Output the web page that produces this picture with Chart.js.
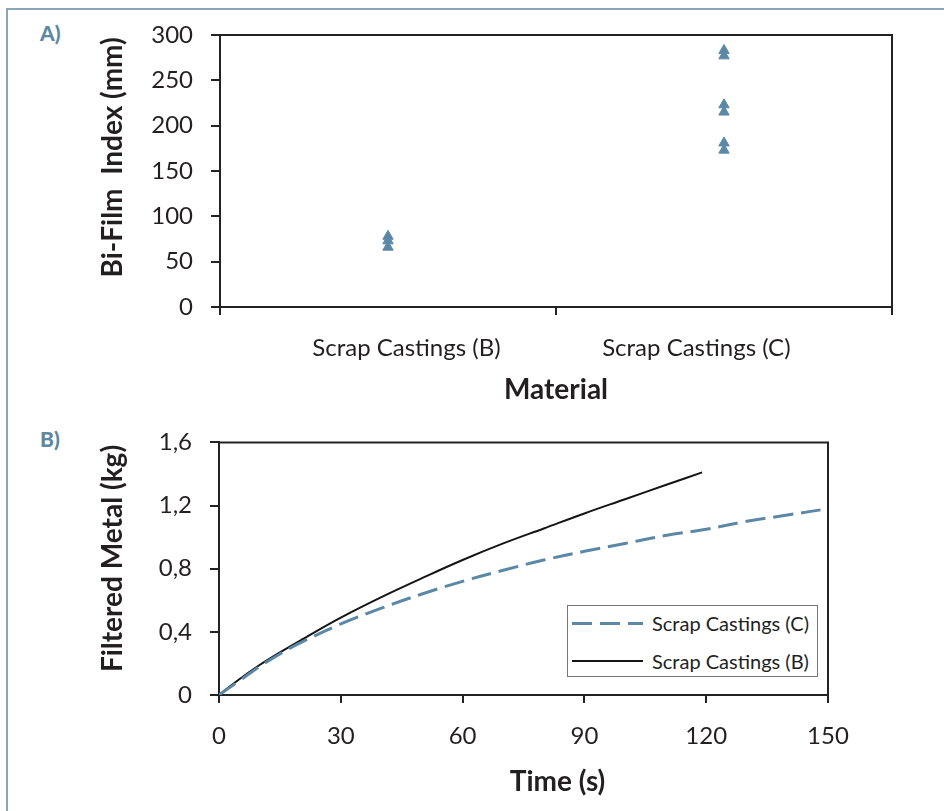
<!DOCTYPE html>
<html>
<head>
<meta charset="utf-8">
<script src="https://cdn.jsdelivr.net/npm/chart.js@4.4.0/dist/chart.umd.min.js"></script>
<style>
  body { margin: 0; background: #fff; width: 944px; height: 811px; overflow: hidden; position: relative; font-family: Lato, sans-serif; }
  #frame { position: absolute; left: 6px; top: 8px; width: 980px; height: 900px; border-left: 2px solid #8aa6b8; border-top: 2px solid #8aa6b8; }
  .tag { position: absolute; left: 40px; font-weight: 900; font-size: 21px; color: #5c88a4; }
  #chartA { position: absolute; left: 0; top: 0; }
  #chartB { position: absolute; left: 0; top: 410px; }
  #legendB { position: absolute; left: 567px; top: 605px; width: 251px; height: 72px; border: 1px solid #777; background: #fff; box-sizing: border-box; padding-top: 2px; }
  .row { display: flex; align-items: center; height: 30px; margin-bottom: 8px; }
  .sample { width: 71px; margin-left: 4px; margin-right: 9px; }
  .row span { font-size: 20px; color: #231f20; }
</style>
</head>
<body>
<div id="frame"></div>
<div class="tag" style="top:20px">A)</div>
<div class="tag" style="top:426px">B)</div>
<canvas id="chartA" width="944" height="410"></canvas>
<canvas id="chartB" width="944" height="401"></canvas>
<div id="legendB"></div>
<script>
// chart A: bi-film index per material
const materials = ['Scrap Castings (B)', 'Scrap Castings (C)'];
const biFilmB = [78, 73, 66];
const biFilmC = [283, 277, 223, 215, 181, 173];
const biFilmTicks = [0, 50, 100, 150, 200, 250, 300];

// chart B: filtered metal vs time
const timeTicks = [0, 30, 60, 90, 120, 150];
const metalTicks = [0, 0.4, 0.8, 1.2, 1.6];
const timeC = [0, 5, 10, 15, 20, 30, 40, 50, 60, 70, 80, 90, 100, 110, 120, 130, 140, 150];
const metalC = [0, 0.09, 0.18, 0.26, 0.33, 0.45, 0.55, 0.64, 0.72, 0.79, 0.855, 0.91, 0.96, 1.01, 1.05, 1.10, 1.14, 1.18];
const timeB = [0, 5, 10, 15, 20, 30, 40, 50, 60, 70, 80, 90, 100, 110, 119];
const metalB = [0, 0.10, 0.19, 0.27, 0.345, 0.49, 0.62, 0.74, 0.855, 0.96, 1.055, 1.15, 1.24, 1.33, 1.41];

const fam = 'Lato, sans-serif';
const ink = '#231f20';
const blue = '#5b88a6';

const frame = {
  id: 'frame',
  afterDraw(chart) {
    const { ctx, chartArea: a } = chart;
    ctx.save();
    ctx.strokeStyle = '#222';
    ctx.lineWidth = 2;
    ctx.beginPath();
    ctx.moveTo(a.left, a.top);
    ctx.lineTo(a.right, a.top);
    ctx.lineTo(a.right, a.bottom);
    ctx.stroke();
    ctx.restore();
  }
};

function axisGrid(len) {
  return { drawOnChartArea: false, drawTicks: true, tickLength: len, color: '#222', lineWidth: 2 };
}

const tickFont = { size: 24, family: fam };
const titleFont = { size: 28, weight: 'bold', family: fam };

const pts = [];
biFilmB.forEach(v => pts.push({ x: materials[0], y: v }));
biFilmC.forEach(v => pts.push({ x: materials[1], y: v }));

new Chart(document.getElementById('chartA'), {
  type: 'scatter',
  data: {
    labels: materials,
    datasets: [{
      data: pts,
      pointStyle: 'triangle',
      pointRadius: 6,
      backgroundColor: blue,
      borderColor: blue,
      borderWidth: 1
    }]
  },
  options: {
    responsive: false,
    animation: false,
    layout: { padding: { top: 35, right: 52, left: 0, bottom: 0 } },
    plugins: { legend: { display: false }, tooltip: { enabled: false } },
    scales: {
      x: {
        type: 'category',
        labels: materials,
        offset: true,
        afterFit: s => { s.height = 103; },
        grid: Object.assign(axisGrid(8), { offset: true }),
        border: { display: true, color: '#222', width: 2 },
        ticks: {
          padding: 19, color: ink, font: tickFont,
          callback: (v, i) => i === 0 ? ' '.repeat(6) + materials[i] : materials[i] + ' '.repeat(9)
        },
        title: { display: true, text: 'Material', color: ink, font: titleFont, padding: { bottom: 3 } }
      },
      y: {
        min: 0, max: 300,
        afterBuildTicks: s => { s.ticks = biFilmTicks.map(v => ({ value: v })); },
        afterFit: s => { s.width = 220; },
        grid: axisGrid(9),
        border: { display: true, color: '#222', width: 2 },
        ticks: { padding: 18, color: ink, font: tickFont },
        title: { display: true, text: ' '.repeat(4) + 'Bi-Film  Index (mm)', color: ink, font: titleFont, padding: { top: 96 } }
      }
    }
  },
  plugins: [frame]
});

const chartB = new Chart(document.getElementById('chartB'), {
  type: 'line',
  data: {
    datasets: [
      {
        label: 'Scrap Castings (C)',
        data: timeC.map((t, i) => ({ x: t, y: metalC[i] })),
        borderColor: blue, borderWidth: 3, borderDash: [20, 8],
        pointRadius: 0, tension: 0.4, fill: false
      },
      {
        label: 'Scrap Castings (B)',
        data: timeB.map((t, i) => ({ x: t, y: metalB[i] })),
        borderColor: '#151515', borderWidth: 2,
        pointRadius: 0, tension: 0.4, fill: false
      }
    ]
  },
  options: {
    responsive: false,
    animation: false,
    layout: { padding: { top: 27, right: 116, left: 0, bottom: 0 } },
    plugins: { legend: { display: false }, tooltip: { enabled: false } },
    scales: {
      x: {
        type: 'linear', min: 0, max: 150,
        afterBuildTicks: s => { s.ticks = timeTicks.map(v => ({ value: v })); },
        afterFit: s => { s.height = 116; },
        grid: axisGrid(8),
        border: { display: true, color: '#222', width: 2 },
        ticks: { padding: 19, color: ink, font: tickFont },
        title: { display: true, text: ' '.repeat(10) + 'Time (s)', color: ink, font: titleFont, padding: { bottom: 12 } }
      },
      y: {
        min: 0, max: 1.6,
        afterBuildTicks: s => { s.ticks = metalTicks.map(v => ({ value: v })); },
        afterFit: s => { s.width = 219; },
        grid: axisGrid(9),
        border: { display: true, color: '#222', width: 2 },
        ticks: {
          padding: 18, color: ink, font: tickFont,
          callback: v => v === 0 ? '0' : v.toFixed(1).replace('.', ',')
        },
        title: { display: true, text: ' '.repeat(3) + 'Filtered Metal (kg)', color: ink, font: titleFont, padding: { top: 96 } }
      }
    }
  },
  plugins: [frame]
});

// legend drawn from the chart's own datasets
const legendBox = document.getElementById('legendB');
chartB.data.datasets.forEach(ds => {
  const row = document.createElement('div');
  row.className = 'row';
  const sample = document.createElement('div');
  sample.className = 'sample';
  sample.style.height = ds.borderWidth + 'px';
  if (ds.borderDash) {
    const d = ds.borderDash;
    sample.style.background = `repeating-linear-gradient(to right, ${ds.borderColor} 0 ${d[0]}px, transparent ${d[0]}px ${d[0] + d[1]}px)`;
  } else {
    sample.style.background = ds.borderColor;
  }
  const txt = document.createElement('span');
  txt.textContent = ds.label;
  row.appendChild(sample);
  row.appendChild(txt);
  legendBox.appendChild(row);
});
</script>
</body>
</html>
